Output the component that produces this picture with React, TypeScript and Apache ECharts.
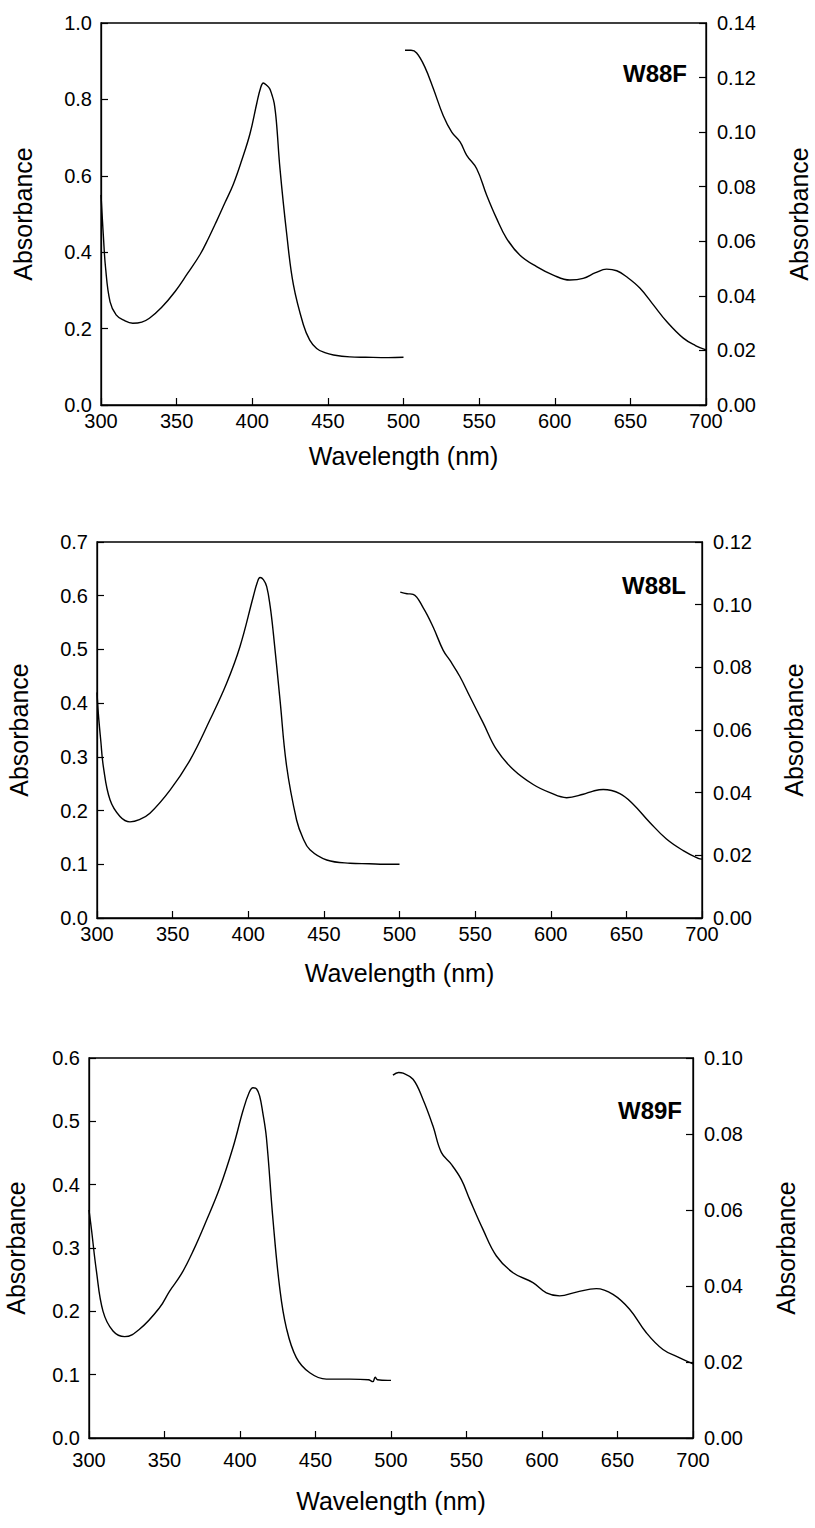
import React, { useEffect, useRef } from "react";
import * as echarts from "echarts";

// ---- Data (wavelength in nm, absorbance) ----
const p1SoretWl = [300, 301, 301.5, 303, 306, 310, 315, 321, 327, 332, 340, 349, 357, 365.5, 371, 376.5, 382, 387.5, 393, 398.5, 403, 405.5, 407.3, 409.5, 411.5, 413, 414.5, 416, 418.3, 422.8, 427.2, 433.8, 438, 442.6, 448, 453.7, 464.6, 475, 490, 500];
const p1SoretAbs = [0.55, 0.48, 0.447, 0.36, 0.27, 0.236, 0.222, 0.214, 0.217, 0.227, 0.255, 0.297, 0.343, 0.394, 0.436, 0.482, 0.53, 0.578, 0.64, 0.71, 0.79, 0.83, 0.843, 0.837, 0.828, 0.812, 0.79, 0.74, 0.62, 0.447, 0.315, 0.21, 0.17, 0.148, 0.137, 0.131, 0.126, 0.125, 0.124, 0.125];
const p1VisWl = [501, 505, 508.7, 514, 519.7, 526.3, 531.9, 537.4, 541.8, 548.4, 555, 561.6, 568.2, 577, 588, 599, 610, 618.8, 627, 634.3, 641, 647.5, 656.4, 665.2, 674, 685, 693, 700];
const p1VisAbs = [0.13, 0.13, 0.129, 0.124, 0.116, 0.106, 0.1, 0.0964, 0.0915, 0.0866, 0.0769, 0.0683, 0.061, 0.0549, 0.0507, 0.0476, 0.0458, 0.0464, 0.0485, 0.0498, 0.0492, 0.047, 0.0428, 0.0367, 0.0306, 0.0245, 0.0218, 0.0202];

const p2SoretWl = [300, 300.9, 302.5, 304.2, 308.6, 315.2, 321.8, 328, 335, 348.3, 361.5, 374.7, 385.7, 394.5, 403.3, 406, 407.8, 410, 412.2, 414.5, 416.6, 421, 425.4, 432, 436, 440.8, 451.9, 467.3, 480, 490, 498, 500];
const p2SoretAbs = [0.42, 0.38, 0.33, 0.282, 0.22, 0.189, 0.179, 0.183, 0.195, 0.238, 0.294, 0.369, 0.437, 0.505, 0.598, 0.625, 0.634, 0.63, 0.617, 0.58, 0.53, 0.406, 0.282, 0.182, 0.15, 0.127, 0.108, 0.102, 0.101, 0.1, 0.1, 0.1];
const p2VisWl = [500.5, 505, 509, 515.7, 522.3, 528.9, 533.4, 540, 546.6, 555.4, 564.2, 575.2, 588.4, 599.5, 610.5, 621.5, 628, 634.7, 645.7, 654.5, 665.5, 676.5, 687.6, 697.5, 700];
const p2VisAbs = [0.104, 0.1035, 0.1033, 0.099, 0.0928, 0.0854, 0.0822, 0.077, 0.0706, 0.0622, 0.0537, 0.0474, 0.0426, 0.04, 0.0384, 0.0395, 0.0405, 0.041, 0.0397, 0.0363, 0.0305, 0.0252, 0.0215, 0.019, 0.0188];

const p3SoretWl = [300, 301.6, 304.9, 309.3, 315.9, 323.6, 333.6, 346.8, 353.4, 361.2, 368.9, 377.7, 386.6, 395.4, 402, 406, 408.6, 411, 413, 415, 417.5, 421.9, 426.3, 430.7, 437.3, 446.2, 457.2, 472.7, 485, 488, 489.5, 491, 498, 500];
const p3SoretAbs = [0.36, 0.33, 0.264, 0.2, 0.169, 0.16, 0.172, 0.206, 0.232, 0.259, 0.295, 0.343, 0.395, 0.459, 0.517, 0.545, 0.553, 0.551, 0.54, 0.515, 0.474, 0.343, 0.237, 0.174, 0.127, 0.103, 0.093, 0.093, 0.092, 0.089, 0.096, 0.092, 0.091, 0.091];
const p3VisWl = [501.3, 505, 508, 514.6, 521.2, 527.8, 533.4, 540, 546.6, 552.1, 560.9, 569.8, 580.8, 594, 602.9, 611.7, 622.8, 636, 647, 658, 669.1, 680.1, 691.2, 700];
const p3VisAbs = [0.0955, 0.0962, 0.096, 0.0944, 0.0891, 0.0821, 0.0751, 0.072, 0.068, 0.0628, 0.0549, 0.0479, 0.0435, 0.0409, 0.0382, 0.0374, 0.0384, 0.0393, 0.0378, 0.0339, 0.0277, 0.0233, 0.0211, 0.0195];

const panelLabels = ["W88F", "W88L", "W89F"];
const leftMax = [1.0, 0.7, 0.6];
const leftStep = [0.2, 0.1, 0.1];
const rightMax = [0.14, 0.12, 0.1];
const rightStep = [0.02, 0.02, 0.02];
const xMin = 300;
const xMax = 700;
const xStep = 50;
const xTitle = "Wavelength (nm)";
const yTitle = "Absorbance";

const soret = [
  [p1SoretWl, p1SoretAbs],
  [p2SoretWl, p2SoretAbs],
  [p3SoretWl, p3SoretAbs],
];
const vis = [
  [p1VisWl, p1VisAbs],
  [p2VisWl, p2VisAbs],
  [p3VisWl, p3VisAbs],
];

const FONT = "'Liberation Sans', Arial, Helvetica, sans-serif";

// layout
const grids = [
  { left: 101, top: 23, width: 605, height: 382 },
  { left: 97, top: 542, width: 605, height: 376 },
  { left: 89, top: 1058, width: 604, height: 380 },
];
const xLabelMargin = [8, 8, 14];
const xNameGap = [38, 42, 50];
const leftNameGap = [66, 66, 61];
const rightNameGap = [80, 79, 80];
const labelPos = [
  { x: 687, y: 73 },
  { x: 686, y: 585 },
  { x: 682, y: 1110 },
];

function zip(a: number[], b: number[]) {
  return a.map((v, i) => [v, b[i]]);
}

export default function App() {
  const ref = useRef<HTMLDivElement>(null);
  useEffect(() => {
    document.body.style.margin = "0";
    if (!ref.current) return;
    const chart = echarts.init(ref.current, undefined, { renderer: "svg" });
    const axisLine = { show: true, lineStyle: { color: "#000", width: 1.3 } };
    const axisTick = { show: true, inside: true, length: 7, lineStyle: { color: "#000", width: 1.2 } };
    const xAxis: any[] = [];
    const yAxis: any[] = [];
    const series: any[] = [];
    const graphic: any[] = [];
    grids.forEach((g, i) => {
      xAxis.push({
        type: "value",
        gridIndex: i,
        min: xMin,
        max: xMax,
        interval: xStep,
        axisLine,
        axisTick,
        splitLine: { show: false },
        axisLabel: { color: "#000", fontSize: 20, lineHeight: 16, fontFamily: FONT, margin: xLabelMargin[i] },
        name: xTitle,
        nameLocation: "middle",
        nameGap: xNameGap[i],
        nameTextStyle: { color: "#000", fontSize: 25, fontFamily: FONT },
      });
      yAxis.push({
        type: "value",
        gridIndex: i,
        position: "left",
        min: 0,
        max: leftMax[i],
        interval: leftStep[i],
        axisLine,
        axisTick,
        splitLine: { show: false },
        axisLabel: {
          color: "#000",
          fontSize: 20,
          lineHeight: 16,
          fontFamily: FONT,
          margin: 9,
          formatter: (v: number) => v.toFixed(1),
        },
        name: yTitle,
        nameLocation: "middle",
        nameRotate: 90,
        nameGap: leftNameGap[i],
        nameTextStyle: { color: "#000", fontSize: 25, fontFamily: FONT },
      });
      yAxis.push({
        type: "value",
        gridIndex: i,
        position: "right",
        min: 0,
        max: rightMax[i],
        interval: rightStep[i],
        axisLine,
        axisTick,
        splitLine: { show: false },
        axisLabel: {
          color: "#000",
          fontSize: 20,
          lineHeight: 16,
          fontFamily: FONT,
          margin: 11,
          formatter: (v: number) => v.toFixed(2),
        },
        name: yTitle,
        nameLocation: "middle",
        nameRotate: 90,
        nameGap: rightNameGap[i],
        nameTextStyle: { color: "#000", fontSize: 25, fontFamily: FONT },
      });
      const lineStyle = { color: "#000", width: 1.4 };
      series.push({
        type: "line",
        xAxisIndex: i,
        yAxisIndex: i * 2,
        data: zip(soret[i][0], soret[i][1]),
        showSymbol: false,
        smooth: 0.4,
        lineStyle,
      });
      series.push({
        type: "line",
        xAxisIndex: i,
        yAxisIndex: i * 2 + 1,
        data: zip(vis[i][0], vis[i][1]),
        showSymbol: false,
        smooth: 0.4,
        lineStyle,
      });
      graphic.push({
        type: "text",
        x: labelPos[i].x,
        y: labelPos[i].y,
        style: {
          text: panelLabels[i],
          fill: "#000",
          font: `bold 24px ${FONT}`,
          textAlign: "right",
          textVerticalAlign: "middle",
        },
      });
    });
    chart.setOption({
      animation: false,
      backgroundColor: "#fff",
      grid: grids.map((g) => ({
        ...g,
        show: true,
        containLabel: false,
        outerBoundsMode: "none",
        borderColor: "#000",
        borderWidth: 1.3,
        backgroundColor: "transparent",
      })),
      xAxis,
      yAxis,
      series,
      graphic,
    });
    return () => chart.dispose();
  }, []);
  return <div ref={ref} style={{ width: 815, height: 1528 }} />;
}
